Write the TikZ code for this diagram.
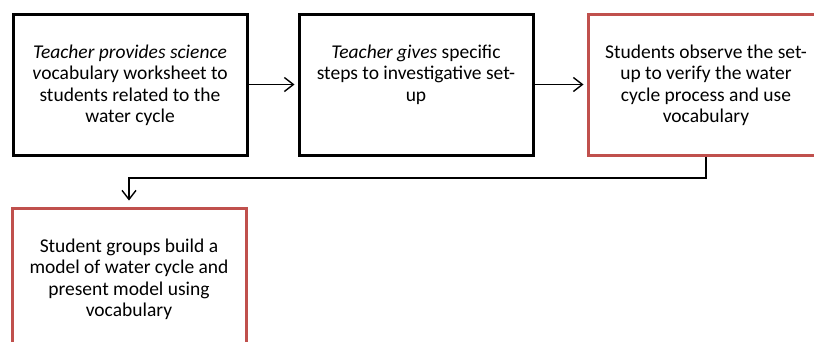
\documentclass[tikz,border=0pt]{standalone}
\usepackage{fontspec}
\setmainfont{Carlito}
\usetikzlibrary{arrows.meta}
\definecolor{boxred}{RGB}{192,80,77}
\tikzset{
  stepbox/.style={draw=black, line width=3pt, inner sep=0pt, minimum width=234pt, minimum height=141pt, anchor=north west},
  redbox/.style={stepbox, draw=boxred},
  flow/.style={draw=black, line width=1.4pt, -{Straight Barb[length=9pt,width=14pt,line width=1.4pt]}}
}
\newcommand{\boxtext}[2]{\parbox[c][135pt][t]{#1}{\centering\fontsize{19.5}{21.6}\selectfont\rule{0pt}{41pt}#2\par}}
\begin{document}
\begin{tikzpicture}[x=1pt,y=-1pt]
\useasboundingbox (0,0) rectangle (814,341);
\clip (0,0) rectangle (814,341);
\fill[white] (0,0) rectangle (814,341);
\node[stepbox] (a) at (11.5,12.5) {\boxtext{230pt}{\textit{Teacher provides science v}ocabulary worksheet to\\ students related to the\\ water cycle}};
\node[stepbox, minimum width=234pt] (b) at (297.5,12.5) {\boxtext{230pt}{\textit{Teacher gives} specific\\ steps to investigative set-\\ up}};
\node[redbox, minimum width=236pt] (c) at (586.5,12.5) {\boxtext{230pt}{Students observe the set-\\ up to verify the water\\ cycle process and use\\ vocabulary}};
\node[redbox, minimum width=234pt] (d) at (10.5,206.5) {\boxtext{230pt}{Student groups build a\\ model of water cycle and\\ present model using\\ vocabulary}};
\coordinate (turn) at (0,178);
\draw[flow, shorten >=3pt] (a.east) -- (b.west);
\draw[flow, shorten >=3pt] (b.east) -- (c.west);
\draw[flow, shorten >=6pt] (c.south) |- (d.north |- turn) -- (d.north);
\end{tikzpicture}
\end{document}
